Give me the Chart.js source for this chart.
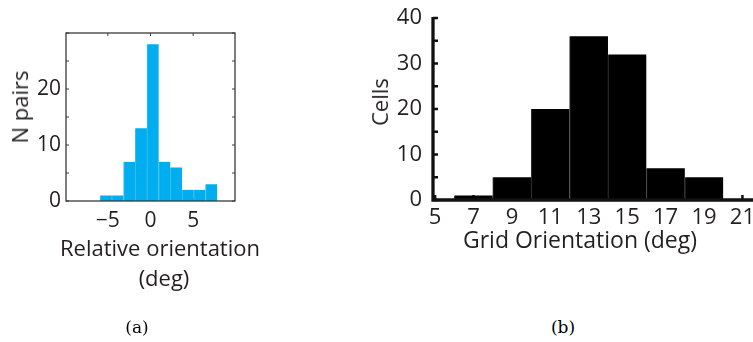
<!DOCTYPE html>
<html>
<head>
<meta charset="utf-8">
<script src="https://cdn.jsdelivr.net/npm/chart.js@4.4.1/dist/chart.umd.min.js"></script>
<style>
  body { margin: 0; width: 753px; height: 342px; position: relative; overflow: hidden; background: #fff;
         font-family: "Open Sans", sans-serif; color: #231f20; }
  .panel { position: absolute; top: 0; }
  .lbl { position: absolute; white-space: nowrap; line-height: 1.362; transform: translate(-50%, -50%); }
  .rot { transform: translate(-50%, -50%) rotate(-90deg); }
  .cap { font-family: "DejaVu Serif", serif; font-size: 17px; line-height: 1; color: #000; }
</style>
</head>
<body>
<div class="panel" style="left:0"><canvas id="chartA" width="260" height="240"></canvas></div>
<div class="panel" style="left:340px"><canvas id="chartB" width="413" height="240"></canvas></div>

<div class="lbl rot" style="left:19.5px; top:106.7px; font-size:22px">N pairs</div>
<div class="lbl" style="left:160px; top:248px; font-size:22px">Relative orientation</div>
<div class="lbl" style="left:164px; top:278px; font-size:22px">(deg)</div>
<div class="lbl rot" style="left:379.5px; top:101.7px; font-size:22px">Cells</div>
<div class="lbl" style="left:580px; top:239.5px; font-size:23px">Grid Orientation (deg)</div>
<div class="lbl cap" style="left:137px; top:327px">(a)</div>
<div class="lbl cap" style="left:563px; top:327px">(b)</div>

<script>
// (a) relative orientation of cell pairs
const binsA = [-5.21, -3.84, -2.47, -1.10, 0.27, 1.64, 3.01, 4.39, 5.76, 7.13];
const pairsA = [1, 1, 7, 13, 28, 7, 6, 2, 2, 3];
const xTicksA = [-5, 0, 5];
const yTicksA = [0, 5, 10, 15, 20, 25, 30];

// (b) grid orientation of cells
const binsB = [7, 9, 11, 13, 15, 17, 19];
const cellsB = [1, 5, 20, 36, 32, 7, 5];
const xTicksB = [5, 7, 9, 11, 13, 15, 17, 19, 21];
const yTicksB = [0, 5, 10, 15, 20, 25, 30, 35, 40];

const textColor = '#231f20';

// matlab-like axes: inward tick marks under the bars, axis lines on top
const axesFrame = {
  id: 'axesFrame',
  beforeDatasetsDraw(chart, args, opts) {
    const { ctx, chartArea: a, scales: { x, y } } = chart;
    const len = opts.tickLength;
    ctx.save();
    ctx.strokeStyle = opts.color;
    ctx.lineWidth = opts.tickWidth;
    ctx.beginPath();
    x.ticks.forEach(t => {
      const px = x.getPixelForValue(t.value);
      ctx.moveTo(px, a.bottom);
      ctx.lineTo(px, a.bottom - len);
      if (opts.box) { ctx.moveTo(px, a.top); ctx.lineTo(px, a.top + len); }
    });
    y.ticks.forEach(t => {
      const py = y.getPixelForValue(t.value);
      ctx.moveTo(a.left, py);
      ctx.lineTo(a.left + len, py);
      if (opts.box) { ctx.moveTo(a.right, py); ctx.lineTo(a.right - len, py); }
    });
    ctx.stroke();
    ctx.restore();
  },
  afterDatasetsDraw(chart, args, opts) {
    const { ctx, chartArea: a } = chart;
    ctx.save();
    ctx.strokeStyle = opts.color;
    ctx.lineWidth = opts.lineWidth;
    if (opts.box) {
      ctx.strokeRect(a.left, a.top, a.right - a.left, a.bottom - a.top);
    } else {
      ctx.beginPath();
      ctx.moveTo(a.left, a.top - 1);
      ctx.lineTo(a.left, a.bottom);
      ctx.lineTo(a.right, a.bottom);
      ctx.stroke();
    }
    ctx.restore();
  }
};

const fixedTicks = values => scale => { scale.ticks = values.map(v => ({ value: v })); };
const minus = v => String(v).replace('-', '\u2212');

function histogram(id, bins, counts, cfg) {
  return new Chart(document.getElementById(id), {
    type: 'bar',
    data: {
      datasets: [{
        data: bins.map((x, i) => ({ x, y: counts[i] })),
        backgroundColor: cfg.fill,
        borderColor: cfg.edge,
        borderWidth: { left: 1, right: 0, top: 0, bottom: 0 },
        borderSkipped: false,
        categoryPercentage: 1,
        barPercentage: 1
      }]
    },
    options: {
      responsive: false,
      animation: false,
      devicePixelRatio: 1,
      layout: { padding: cfg.padding },
      plugins: {
        legend: { display: false },
        tooltip: { enabled: false },
        axesFrame: cfg.frame
      },
      scales: {
        x: {
          type: 'linear',
          min: cfg.xMin,
          max: cfg.xMax,
          offset: false,
          afterBuildTicks: fixedTicks(cfg.xTicks),
          afterFit: s => { s.height = cfg.xHeight; s.paddingLeft = s.paddingRight = 0; },
          grid: { display: false, drawTicks: false },
          border: { display: false },
          ticks: {
            autoSkip: false, maxRotation: 0, padding: cfg.xPad, color: textColor,
            font: { family: 'Open Sans', size: cfg.tickSize },
            callback: v => minus(v)
          }
        },
        y: {
          min: 0,
          max: cfg.yMax,
          afterBuildTicks: fixedTicks(cfg.yTicks),
          afterFit: s => { s.width = cfg.yWidth; s.paddingTop = s.paddingBottom = 0; },
          grid: { display: false, drawTicks: false },
          border: { display: false },
          ticks: {
            autoSkip: false, padding: cfg.yPad, color: textColor,
            font: { family: 'Open Sans', size: cfg.tickSize },
            callback: v => (v % 10 === 0 && v <= cfg.yLabelMax ? v : '')
          }
        }
      }
    },
    plugins: [axesFrame]
  });
}

histogram('chartA', binsA, pairsA, {
  fill: '#00aeef', edge: '#38bff1',
  padding: { top: 33, right: 25, left: 0, bottom: 0 },
  frame: { box: true, color: '#3a3a3a', lineWidth: 1.3, tickLength: 3, tickWidth: 1 },
  xMin: -9.9, xMax: 9.9, xTicks: xTicksA, xHeight: 39, xPad: 7,
  yMax: 30, yTicks: yTicksA, yWidth: 66, yPad: 5, yLabelMax: 20,
  tickSize: 21
});

histogram('chartB', binsB, cellsB, {
  fill: '#000', edge: '#3a3a3a',
  padding: { top: 18, right: 0, left: 0, bottom: 0 },
  frame: { box: false, color: '#111', lineWidth: 3.3, tickLength: 5, tickWidth: 2.5 },
  xMin: 4.89, xMax: 21.55, xTicks: xTicksB, xHeight: 40, xPad: 5,
  yMax: 40, yTicks: yTicksB, yWidth: 93, yPad: 11, yLabelMax: 40,
  tickSize: 22
});
</script>
</body>
</html>
